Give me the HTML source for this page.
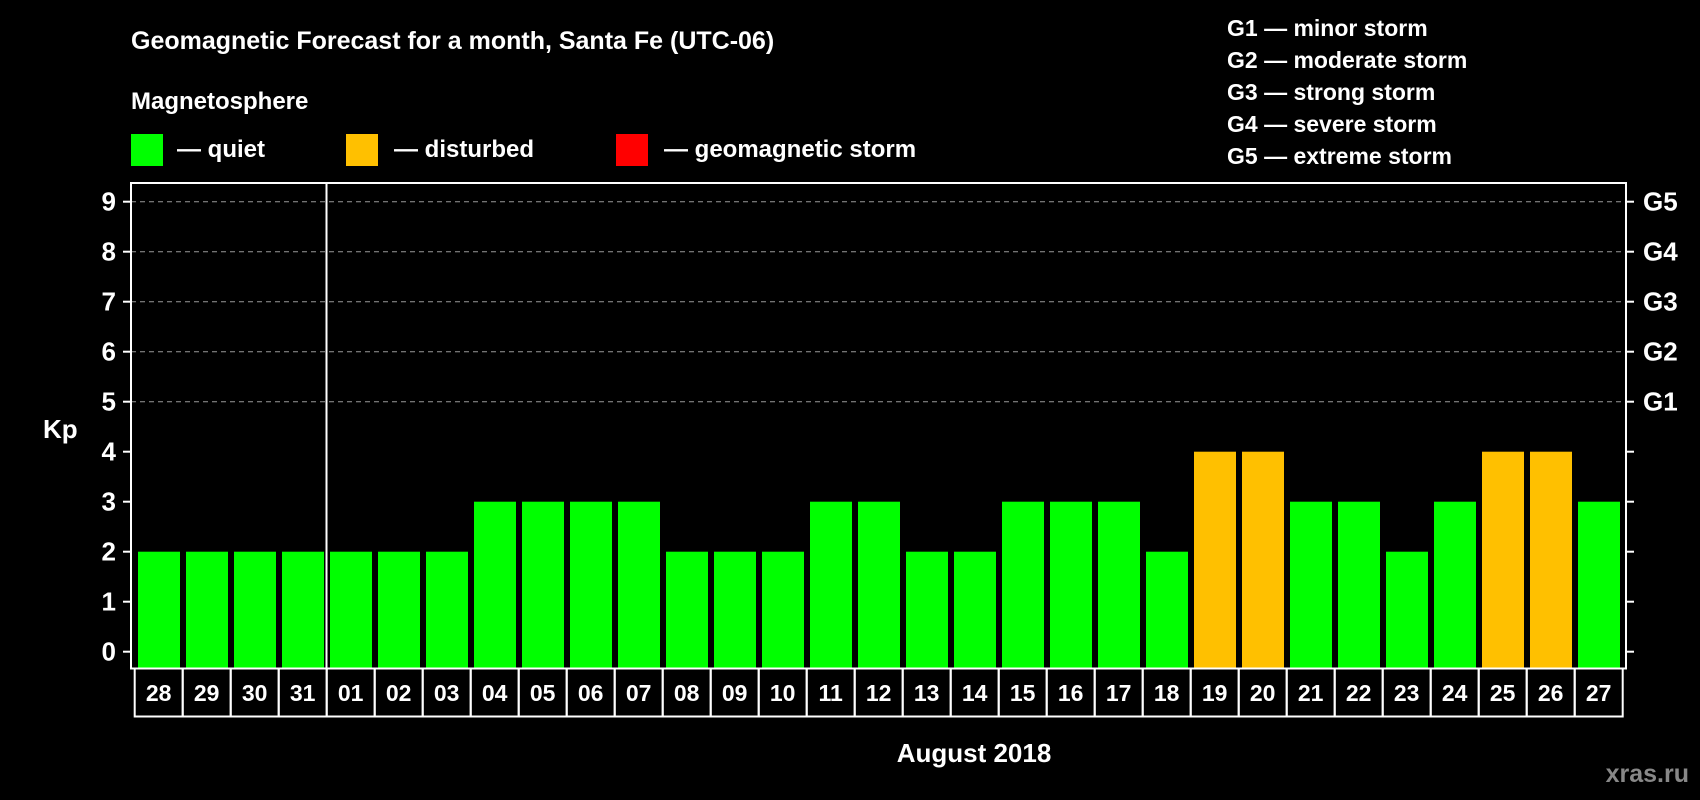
<!DOCTYPE html>
<html><head><meta charset="utf-8"><style>
html,body{margin:0;padding:0;background:#000;}
svg{display:block;font-family:"Liberation Sans",Arial,sans-serif;font-weight:bold;}
</style></head><body>
<svg id="chart" width="1700" height="800" viewBox="0 0 1700 800">
<rect x="0" y="0" width="1700" height="800" fill="#000"/>
<text x="131" y="49" fill="#fff" font-size="25">Geomagnetic Forecast for a month, Santa Fe (UTC-06)</text>
<text x="131" y="109" fill="#fff" font-size="24">Magnetosphere</text>
<g>
<rect x="131" y="134" width="32" height="32" fill="#00ff00"/>
<text x="177" y="157" fill="#fff" font-size="24">— quiet</text></g>
<g>
<rect x="346" y="134" width="32" height="32" fill="#ffc000"/>
<text x="394" y="157" fill="#fff" font-size="24">— disturbed</text></g>
<g>
<rect x="616" y="134" width="32" height="32" fill="#ff0000"/>
<text x="664" y="157" fill="#fff" font-size="24">— geomagnetic storm</text></g>
<g fill="#fff" font-size="23">
<text x="1227" y="36">G1 — minor storm</text>
<text x="1227" y="68">G2 — moderate storm</text>
<text x="1227" y="100">G3 — strong storm</text>
<text x="1227" y="132">G4 — severe storm</text>
<text x="1227" y="164">G5 — extreme storm</text>
</g>
<g id="grid"></g>
<g id="bars"></g>
<g id="axes"></g>
<text x="43" y="438" fill="#fff" font-size="26">Kp</text>
<text x="974" y="762" fill="#fff" font-size="26" text-anchor="middle">August 2018</text>
<text x="1689" y="782" fill="#888" font-size="25" text-anchor="end">xras.ru</text>
</svg>
<script>
const days = ["28","29","30","31","01","02","03","04","05","06","07","08","09","10","11","12","13","14","15","16","17","18","19","20","21","22","23","24","25","26","27"];
const kpValues = [2,2,2,2,2,2,2,3,3,3,3,2,2,2,3,3,2,2,3,3,3,2,4,4,3,3,2,3,4,4,3];
const yTicks = [0,1,2,3,4,5,6,7,8,9];
const gLabels = ["G1","G2","G3","G4","G5"];
const gLevels = [5,6,7,8,9];
const monthStartIndex = 4;

const NS="http://www.w3.org/2000/svg";
const L=131,R=1626,T=183,B=668.5;
const y=v=>651.7-50*v;
const x0=138,pitch=48,bw=42;
const xb=i=>x0+i*pitch;
function mk(tag,attrs,parent){const e=document.createElementNS(NS,tag);for(const k in attrs)e.setAttribute(k,attrs[k]);parent.appendChild(e);return e;}
const grid=document.getElementById('grid'),bars=document.getElementById('bars'),axes=document.getElementById('axes');
gLevels.forEach(v=>{
  const g=mk('line',{x1:L,x2:R,y1:y(v),y2:y(v),stroke:'#999','stroke-width':1,'stroke-dasharray':'5,4'},grid);
  
  
});
kpValues.forEach((v,i)=>{
  const c=v>=5?'#ff0000':(v>=4?'#ffc000':'#00ff00');
  const r=mk('rect',{x:xb(i),y:y(v),width:bw,height:B-1-y(v),fill:c},bars);
  
  
});
const fr=mk('rect',{x:L,y:T,width:R-L,height:B-T,fill:'none',stroke:'#fff','stroke-width':2},axes);


const sx=xb(monthStartIndex)-3.5;
const sep=mk('line',{x1:sx,x2:sx,y1:T,y2:B,stroke:'#fff','stroke-width':2},axes);


yTicks.forEach(v=>{
  mk('line',{x1:L-8,x2:L,y1:y(v),y2:y(v),stroke:'#fff','stroke-width':2},axes);
  mk('line',{x1:R,x2:R+8,y1:y(v),y2:y(v),stroke:'#fff','stroke-width':2},axes);
  const t=mk('text',{x:116,y:y(v)+9,fill:'#fff','font-size':26,'text-anchor':'end'},axes);
  t.textContent=v;
  
  
});
gLevels.forEach((v,i)=>{
  const t=mk('text',{x:1643,y:y(v)+9,fill:'#fff','font-size':26},axes);
  t.textContent=gLabels[i];
  
  
});
days.forEach((d,i)=>{
  const cx=134.7+i*pitch;
  const c=mk('rect',{x:cx,y:668.5,width:pitch,height:48,fill:'none',stroke:'#fff','stroke-width':2},axes);
  
  
  const t=mk('text',{x:cx+pitch/2,y:701,fill:'#fff','font-size':23,'text-anchor':'middle'},axes);
  t.textContent=d;
  
  
});
</script>
</body></html>
